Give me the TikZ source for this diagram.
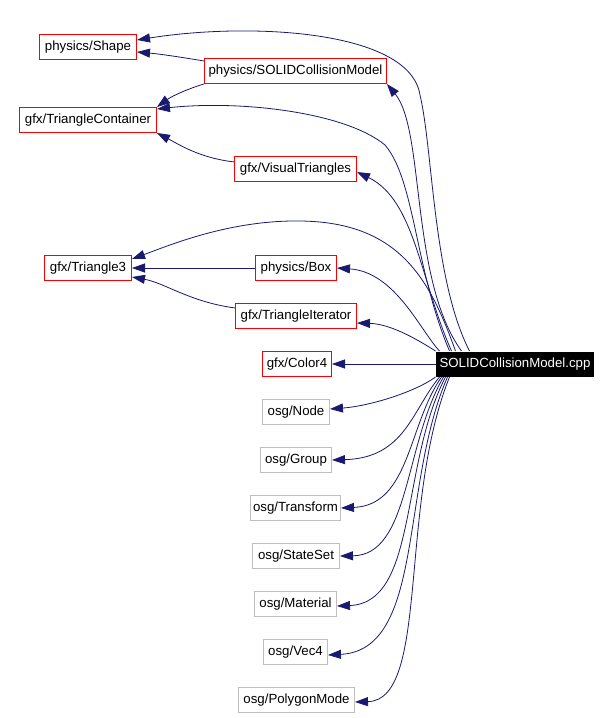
\documentclass[tikz,border=0pt]{standalone}
\usepackage{fontspec,xcolor,tikz}
\setmainfont{Liberation Sans}
\usetikzlibrary{arrows.meta,calc}
\definecolor{navy}{HTML}{191970}
\definecolor{rot}{HTML}{FF0000}
\definecolor{grau}{HTML}{BFBFBF}
\newcommand{\lbl}{\fontsize{13.3}{16}\selectfont}
\tikzset{kante/.style={navy,line width=0.8bp,-{Triangle[length=13bp,width=9bp]}},
  kasten/.style={line width=1bp,minimum height=25bp,inner xsep=2bp,inner ysep=0pt,font=\lbl},
  kopf/.style={kasten,draw=rot},
  fremd/.style={kasten,draw=grau},
  quelle/.style={kasten,fill=black,text=white,draw=none}}

\begin{document}
\begin{tikzpicture}[x=1bp,y=-1bp]
\useasboundingbox[fill=white] (0,0) rectangle (611,718);
% Knoten
\node[quelle,minimum width=158bp] (cpp) at (515,364) {SOLIDCollisionModel.cpp};
\node[kopf,minimum width=97bp] (physshape) at (88,47) {physics/Shape};
\node[kopf,minimum width=182bp] (scm) at (295.5,71) {physics/SOLIDCollisionModel};
\node[kopf,minimum width=137bp] (tc) at (88,120) {gfx/TriangleContainer};
\node[kopf,minimum width=122bp] (vt) at (295.5,169) {gfx/VisualTriangles};
\node[kopf,minimum width=87bp] (t3) at (88,268) {gfx/Triangle3};
\node[kopf,minimum width=81bp] (box) at (296,268) {physics/Box};
\node[kopf,minimum width=121bp] (ti) at (296,316) {gfx/TriangleIterator};
\node[kopf,minimum width=69bp] (color) at (297,364) {gfx/Color4};
\node[fremd,minimum width=67bp] (osgnode) at (296,412) {osg/Node};
\node[fremd,minimum width=71bp] (osggroup) at (296,460) {osg/Group};
\node[fremd,minimum width=90bp] (osgtransform) at (295.5,508) {osg/Transform};
\node[fremd,minimum width=87bp] (osgstateset) at (296,556) {osg/StateSet};
\node[fremd,minimum width=82bp] (osgmaterial) at (295.5,604) {osg/Material};
\node[fremd,minimum width=64bp] (osgvec) at (295.5,652) {osg/Vec4};
\node[fremd,minimum width=116bp] (osgpolygon) at (296.5,700) {osg/PolygonMode};
% Kanten nach oben
\draw[kante] ($(cpp.north west)+(34,0)$) .. controls (433,280) and (433,150) .. (420,95) .. controls (410,30) and (250,22) .. ($(physshape.east)+(0,-7)$);
\draw[kante] ($(cpp.north west)+(26,0)$) .. controls (410,280) and (425,130) .. (scm.south east);
\draw[kante] ($(cpp.north west)+(14,0)$) .. controls (415,270) and (415,180) .. (385,145) .. controls (345,112) and (240,100) .. ($(tc.east)+(0,-11)$);
\draw[kante] ($(cpp.north west)+(16,0)$) .. controls (420,280) and (415,200) .. ($(vt.east)+(0,3)$);
\draw[kante] ($(cpp.north west)+(20,0)$) .. controls (430,280) and (400,222) .. (300,221) .. controls (230,220) and (170,245) .. ($(t3.east)+(0,-9)$);
\draw[kante] ($(cpp.north west)+(4,0)$) .. controls (420,330) and (395,272) .. (box.east);
\draw[kante] (cpp.north west) .. controls (415,338) and (390,324) .. ($(ti.east)+(0,7)$);
\draw[kante] (cpp) -- (color);
% Kanten zwischen den Headern
\draw[kante] ($(scm.west)+(0,-10)$) .. controls (180,57) and (160,54) .. ($(physshape.east)+(0,5)$);
\draw[kante] (scm.south west) .. controls (190,88) and (172,96) .. (tc.north east);
\draw[kante] (vt) .. controls (200,158) and (180,145) .. (tc.south east);
\draw[kante] (box) -- (t3);
\draw[kante] (ti) .. controls (190,302) and (165,283) .. ($(t3.east)+(0,9)$);
% Kanten nach unten
\draw[kante] (cpp.south west) .. controls (415,392) and (370,406) .. ($(osgnode.east)+(0,-3)$);
\draw[kante] ($(cpp.south west)+(4,0)$) .. controls (412,410) and (405,458) .. (osggroup.east);
\draw[kante] ($(cpp.south west)+(6,0)$) .. controls (408,425) and (410,505) .. (osgtransform.east);
\draw[kante] ($(cpp.south west)+(8,0)$) .. controls (404,445) and (410,555) .. (osgstateset.east);
\draw[kante] ($(cpp.south west)+(10,0)$) .. controls (400,465) and (418,603) .. ($(osgmaterial.east)+(0,2)$);
\draw[kante] ($(cpp.south west)+(12,0)$) .. controls (400,485) and (425,650) .. ($(osgvec.east)+(0,3)$);
\draw[kante] ($(cpp.south west)+(14,0)$) .. controls (398,505) and (430,700) .. ($(osgpolygon.east)+(0,2)$);
\end{tikzpicture}
\end{document}
